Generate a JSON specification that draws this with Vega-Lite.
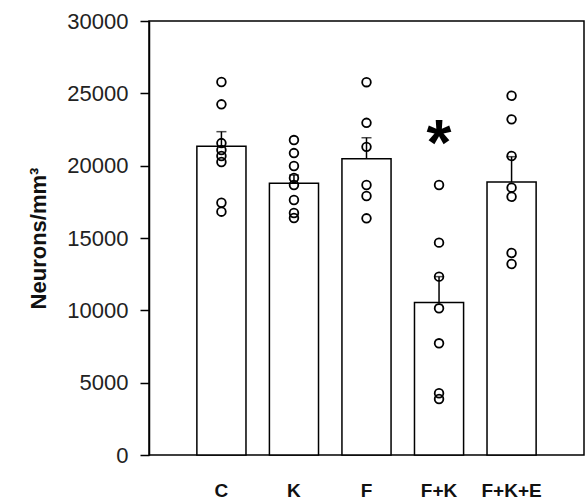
{
  "$schema": "https://vega.github.io/schema/vega-lite/v6.json",
  "autosize": "none",
  "padding": {"left": 149, "top": 21, "right": 2, "bottom": 44},
  "width": 435,
  "height": 434,
  "background": "white",
  "config": {
    "view": {"stroke": "black", "strokeWidth": 1.5},
    "font": "Liberation Sans"
  },
  "datasets": {
    "bars": [
      {"group": "C", "mean": 21350, "upper": 22350},
      {"group": "K", "mean": 18780, "upper": 19350},
      {"group": "F", "mean": 20480, "upper": 21930},
      {"group": "F+K", "mean": 10550, "upper": 12330},
      {"group": "F+K+E", "mean": 18870, "upper": 20620}
    ],
    "points": [
      {"group": "C", "value": 25780},
      {"group": "C", "value": 24240},
      {"group": "C", "value": 21560},
      {"group": "C", "value": 21080},
      {"group": "C", "value": 20670},
      {"group": "C", "value": 20250},
      {"group": "C", "value": 17440},
      {"group": "C", "value": 16820},
      {"group": "K", "value": 21770},
      {"group": "K", "value": 20870},
      {"group": "K", "value": 19980},
      {"group": "K", "value": 19150},
      {"group": "K", "value": 18660},
      {"group": "K", "value": 17630},
      {"group": "K", "value": 16730},
      {"group": "K", "value": 16380},
      {"group": "F", "value": 25770},
      {"group": "F", "value": 22960},
      {"group": "F", "value": 21300},
      {"group": "F", "value": 18660},
      {"group": "F", "value": 17900},
      {"group": "F", "value": 16360},
      {"group": "F+K", "value": 18660},
      {"group": "F+K", "value": 14680},
      {"group": "F+K", "value": 12330},
      {"group": "F+K", "value": 10140},
      {"group": "F+K", "value": 7720},
      {"group": "F+K", "value": 4270},
      {"group": "F+K", "value": 3870},
      {"group": "F+K+E", "value": 24830},
      {"group": "F+K+E", "value": 23200},
      {"group": "F+K+E", "value": 20670},
      {"group": "F+K+E", "value": 18480},
      {"group": "F+K+E", "value": 17850},
      {"group": "F+K+E", "value": 13960},
      {"group": "F+K+E", "value": 13200}
    ],
    "stars": [
      {"group": "F+K", "value": 22100, "label": "*"}
    ]
  },
  "encoding": {
    "x": {
      "field": "group",
      "type": "nominal",
      "sort": ["C", "K", "F", "F+K", "F+K+E"],
      "scale": {"paddingInner": 0.323, "paddingOuter": 0.66},
      "axis": {
        "title": null,
        "labelAngle": 0,
        "ticks": false,
        "domain": false,
        "labelPadding": 26,
        "labelFont": "Liberation Sans",
        "labelFontWeight": "bold",
        "labelFontSize": 19,
        "labelColor": "#111"
      }
    }
  },
  "layer": [
    {
      "data": {"name": "bars"},
      "mark": {"type": "bar", "fill": "white", "stroke": "black", "strokeWidth": 1.5},
      "encoding": {
        "y": {
          "field": "mean",
          "type": "quantitative",
          "scale": {"domain": [0, 30000], "nice": false},
          "axis": {
            "title": "Neurons/mm³",
            "titleFont": "Liberation Sans",
            "titleFontSize": 22,
            "titleFontWeight": "bold",
            "titleColor": "#111",
            "titlePadding": 16,
            "values": [0, 5000, 10000, 15000, 20000, 25000, 30000],
            "format": "d",
            "grid": false,
            "domainColor": "black",
            "domainWidth": 1.5,
            "tickColor": "black",
            "tickWidth": 1.5,
            "tickSize": 9,
            "labelPadding": 12,
            "labelFont": "Liberation Sans",
            "labelFontSize": 22,
            "labelColor": "#222"
          }
        }
      }
    },
    {
      "data": {"name": "bars"},
      "mark": {"type": "rule", "color": "black", "strokeWidth": 1.5},
      "encoding": {
        "y": {"field": "mean", "type": "quantitative"},
        "y2": {"field": "upper"}
      }
    },
    {
      "data": {"name": "bars"},
      "mark": {"type": "tick", "color": "black", "thickness": 1.5, "size": 10},
      "encoding": {
        "y": {"field": "upper", "type": "quantitative"}
      }
    },
    {
      "data": {"name": "points"},
      "mark": {"type": "point", "shape": "circle", "filled": false, "stroke": "black", "strokeWidth": 1.8, "size": 75, "opacity": 1},
      "encoding": {
        "y": {"field": "value", "type": "quantitative"}
      }
    },
    {
      "data": {"name": "stars"},
      "mark": {"type": "text", "font": "Liberation Sans", "fontWeight": "bold", "fontSize": 64, "baseline": "middle", "dy": 11, "color": "black"},
      "encoding": {
        "y": {"field": "value", "type": "quantitative"},
        "text": {"field": "label"}
      }
    }
  ]
}
